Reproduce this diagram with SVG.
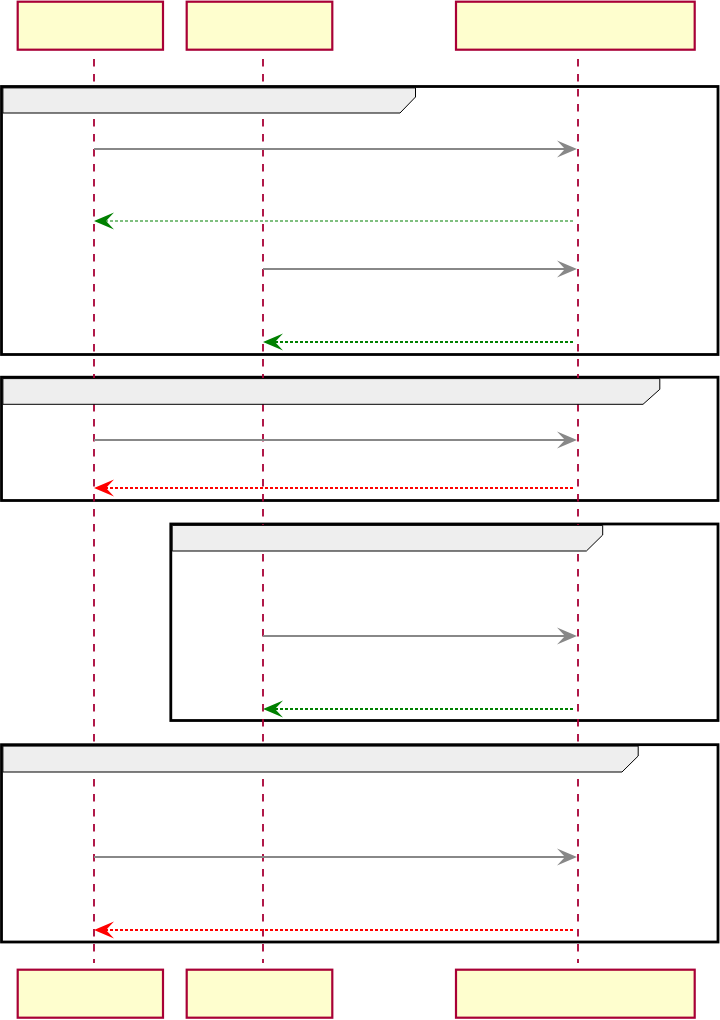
<svg xmlns="http://www.w3.org/2000/svg" width="720" height="1020" viewBox="0 0 720 1020">
<style>
.part{fill:#FEFECE;stroke:#A80036;stroke-width:2.2}
.life{stroke:#A80036;stroke-width:1.8;stroke-dasharray:7.5,7.5;fill:none}
.frame{fill:none;stroke:#000;stroke-width:2.8}
.tab{fill:#EEEEEE;stroke:#000;stroke-width:1}
.req{stroke:#888888;stroke-width:1.8;fill:none}
.ok{stroke:#008000;stroke-width:1.1;stroke-dasharray:3,2;fill:none}
.okd{stroke:#008000;stroke-width:2;stroke-dasharray:3,2;fill:none}
.err{stroke:#FF0000;stroke-width:2;stroke-dasharray:3,2;fill:none}
.hg{fill:#888888}
.hgr{fill:#008000}
.hr{fill:#FF0000}
</style>
<rect width="720" height="1020" fill="#FFFFFF"/>
<g id="frames">
<rect class="frame" x="1.5" y="86.5" width="716.5" height="268"/>
<rect class="frame" x="1.5" y="377.2" width="716.5" height="123.3"/>
<rect class="frame" x="170.8" y="524" width="547.2" height="196.5"/>
<rect class="frame" x="1.5" y="744.7" width="716.5" height="197.3"/>
</g>
<g id="lifelines">
<line class="life" x1="94" y1="59" x2="94" y2="963"/>
<line class="life" x1="263" y1="59" x2="263" y2="963"/>
<line class="life" x1="578" y1="59" x2="578" y2="963"/>
</g>
<g id="tabs">
<path class="tab" d="M2.9,87.9 H415.5 V97 L400,113 H2.9 Z"/>
<path class="tab" d="M2.9,378.6 H659.8 V389.3 L643,404.3 H2.9 Z"/>
<path class="tab" d="M172.2,525.4 H602.7 V535 L586.4,551 H172.2 Z"/>
<path class="tab" d="M2.9,746.1 H638.2 V756 L622,772 H2.9 Z"/>
</g>
<g id="connectors">
<line class="req" x1="94" y1="149" x2="568" y2="149"/>
<polygon class="hg" points="577,149 557,140.5 565,149 557,157.5"/>
<line class="ok" x1="573" y1="221" x2="104" y2="221"/>
<polygon class="hgr" points="94,221 114,212.5 106,221 114,229.5"/>
<line class="req" x1="263" y1="269" x2="568" y2="269"/>
<polygon class="hg" points="577,269 557,260.5 565,269 557,277.5"/>
<line class="okd" x1="573" y1="342" x2="273" y2="342"/>
<polygon class="hgr" points="263,342 283,333.5 275,342 283,350.5"/>
<line class="req" x1="94" y1="440" x2="568" y2="440"/>
<polygon class="hg" points="577,440 557,431.5 565,440 557,448.5"/>
<line class="err" x1="573" y1="488" x2="104" y2="488"/>
<polygon class="hr" points="94,488 114,479.5 106,488 114,496.5"/>
<line class="req" x1="263" y1="636" x2="568" y2="636"/>
<polygon class="hg" points="577,636 557,627.5 565,636 557,644.5"/>
<line class="okd" x1="573" y1="709" x2="273" y2="709"/>
<polygon class="hgr" points="263,709 283,700.5 275,709 283,717.5"/>
<line class="req" x1="94" y1="857" x2="568" y2="857"/>
<polygon class="hg" points="577,857 557,848.5 565,857 557,865.5"/>
<line class="err" x1="573" y1="930" x2="104" y2="930"/>
<polygon class="hr" points="94,930 114,921.5 106,930 114,938.5"/>
</g>
<g id="p1-top"><rect class="part" x="17.7" y="1.7" width="145.3" height="48"/></g>
<g id="p2-top"><rect class="part" x="186.7" y="1.7" width="145.6" height="48"/></g>
<g id="p3-top"><rect class="part" x="456" y="1.7" width="238.7" height="48"/></g>
<g id="p1-bottom"><rect class="part" x="17.7" y="969.7" width="145.3" height="48"/></g>
<g id="p2-bottom"><rect class="part" x="186.7" y="969.7" width="145.6" height="48"/></g>
<g id="p3-bottom"><rect class="part" x="456" y="969.7" width="238.7" height="48"/></g>
</svg>
